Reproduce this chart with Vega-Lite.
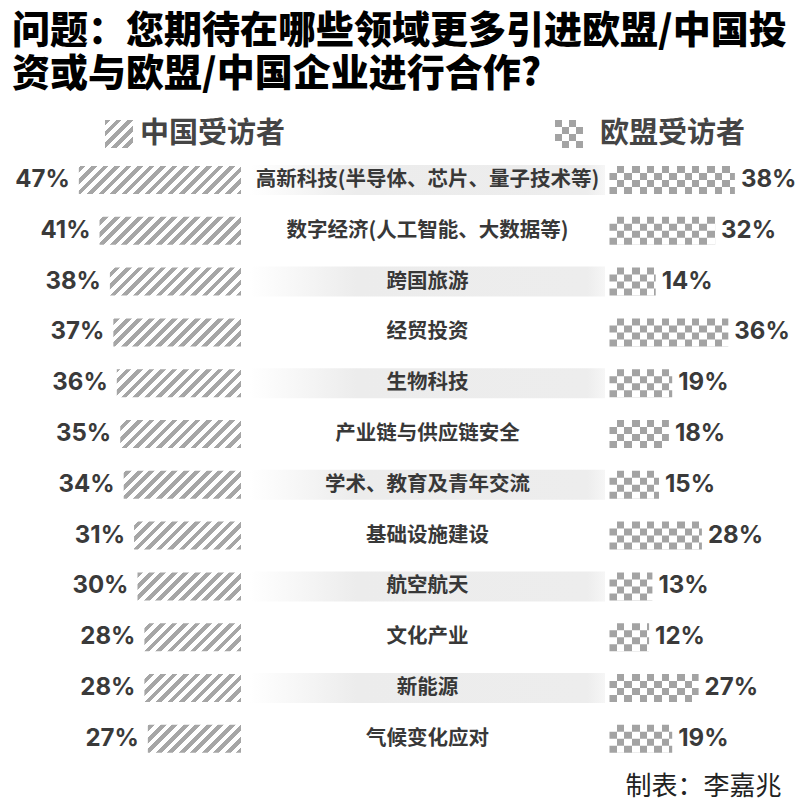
{
  "$schema": "https://vega.github.io/schema/vega-lite/v6.json",
  "width": 806,
  "height": 709,
  "autosize": "none",
  "padding": {"top": 100, "left": 0, "right": 0, "bottom": 0},
  "background": "white",
  "title": {
    "text": ["问题：您期待在哪些领域更多引进欧盟/中国投", "资或与欧盟/中国企业进行合作?"],
    "anchor": "start",
    "frame": "group",
    "font": "Noto Sans CJK SC",
    "fontSize": 38,
    "fontWeight": 900,
    "color": "#000000",
    "lineHeight": 43,
    "offset": 6,
    "dx": 12
  },
  "config": {"view": {"stroke": null}},
  "data": {
    "values": [
      {"rank": 1, "item": "高新科技(半导体、芯片、量子技术等)", "cn": 0.47, "eu": 0.38},
      {"rank": 2, "item": "数字经济(人工智能、大数据等)", "cn": 0.41, "eu": 0.32},
      {"rank": 3, "item": "跨国旅游", "cn": 0.38, "eu": 0.14},
      {"rank": 4, "item": "经贸投资", "cn": 0.37, "eu": 0.36},
      {"rank": 5, "item": "生物科技", "cn": 0.36, "eu": 0.19},
      {"rank": 6, "item": "产业链与供应链安全", "cn": 0.35, "eu": 0.18},
      {"rank": 7, "item": "学术、教育及青年交流", "cn": 0.34, "eu": 0.15},
      {"rank": 8, "item": "基础设施建设", "cn": 0.31, "eu": 0.28},
      {"rank": 9, "item": "航空航天", "cn": 0.30, "eu": 0.13},
      {"rank": 10, "item": "文化产业", "cn": 0.28, "eu": 0.12},
      {"rank": 11, "item": "新能源", "cn": 0.28, "eu": 0.27},
      {"rank": 12, "item": "气候变化应对", "cn": 0.27, "eu": 0.19}
    ]
  },
  "resolve": {"scale": {"x": "independent"}, "axis": {"x": "independent"}},
  "encoding": {
    "y": {
      "field": "item",
      "type": "nominal",
      "axis": null,
      "scale": {
        "domain": ["legend", "高新科技(半导体、芯片、量子技术等)", "数字经济(人工智能、大数据等)", "跨国旅游", "经贸投资", "生物科技", "产业链与供应链安全", "学术、教育及青年交流", "基础设施建设", "航空航天", "文化产业", "新能源", "气候变化应对"],
        "range": [3.8, 664.2],
        "paddingInner": 0,
        "paddingOuter": 0
      }
    }
  },
  "layer": [
    {
      "transform": [{"filter": "datum.rank % 2 == 1"}],
      "mark": {
        "type": "bar",
        "height": 30,
        "fill": {
          "gradient": "linear", "x1": 0, "y1": 0, "x2": 1, "y2": 0,
          "stops": [
            {"offset": 0, "color": "#ffffff"},
            {"offset": 0.3, "color": "#ececec"},
            {"offset": 0.95, "color": "#ededed"},
            {"offset": 1, "color": "#f6f6f6"}
          ]
        }
      },
      "encoding": {
        "x": {"datum": 0, "type": "quantitative", "axis": null, "scale": {"domain": [0, 1], "range": [250, 605], "nice": false, "zero": false}},
        "x2": {"datum": 1}
      }
    },
    {
      "mark": {"type": "text", "font": "Noto Sans CJK SC", "fontSize": 20.5, "fontWeight": "bold", "color": "#383838", "baseline": "middle", "align": "center"},
      "encoding": {
        "x": {"datum": 0.5, "type": "quantitative", "axis": null, "scale": {"domain": [0, 1], "range": [250, 605], "nice": false, "zero": false}},
        "text": {"field": "item"}
      }
    },
    {
      "mark": {
        "type": "bar",
        "height": 28,
        "fill": {
          "gradient": "linear", "x1": 0, "y1": 0, "x2": 1.2342, "y2": 0.2003,
          "stops": [
            {"offset": 0, "color": "#a6a6a6"}, {"offset": 0.026316, "color": "#a6a6a6"}, {"offset": 0.026316, "color": "#ffffff"}, {"offset": 0.052632, "color": "#ffffff"},
            {"offset": 0.052632, "color": "#a6a6a6"}, {"offset": 0.078947, "color": "#a6a6a6"}, {"offset": 0.078947, "color": "#ffffff"}, {"offset": 0.105263, "color": "#ffffff"},
            {"offset": 0.105263, "color": "#a6a6a6"}, {"offset": 0.131579, "color": "#a6a6a6"}, {"offset": 0.131579, "color": "#ffffff"}, {"offset": 0.157895, "color": "#ffffff"},
            {"offset": 0.157895, "color": "#a6a6a6"}, {"offset": 0.184211, "color": "#a6a6a6"}, {"offset": 0.184211, "color": "#ffffff"}, {"offset": 0.210526, "color": "#ffffff"},
            {"offset": 0.210526, "color": "#a6a6a6"}, {"offset": 0.236842, "color": "#a6a6a6"}, {"offset": 0.236842, "color": "#ffffff"}, {"offset": 0.263158, "color": "#ffffff"},
            {"offset": 0.263158, "color": "#a6a6a6"}, {"offset": 0.289474, "color": "#a6a6a6"}, {"offset": 0.289474, "color": "#ffffff"}, {"offset": 0.315789, "color": "#ffffff"},
            {"offset": 0.315789, "color": "#a6a6a6"}, {"offset": 0.342105, "color": "#a6a6a6"}, {"offset": 0.342105, "color": "#ffffff"}, {"offset": 0.368421, "color": "#ffffff"},
            {"offset": 0.368421, "color": "#a6a6a6"}, {"offset": 0.394737, "color": "#a6a6a6"}, {"offset": 0.394737, "color": "#ffffff"}, {"offset": 0.421053, "color": "#ffffff"},
            {"offset": 0.421053, "color": "#a6a6a6"}, {"offset": 0.447368, "color": "#a6a6a6"}, {"offset": 0.447368, "color": "#ffffff"}, {"offset": 0.473684, "color": "#ffffff"},
            {"offset": 0.473684, "color": "#a6a6a6"}, {"offset": 0.5, "color": "#a6a6a6"}, {"offset": 0.5, "color": "#ffffff"}, {"offset": 0.526316, "color": "#ffffff"},
            {"offset": 0.526316, "color": "#a6a6a6"}, {"offset": 0.552632, "color": "#a6a6a6"}, {"offset": 0.552632, "color": "#ffffff"}, {"offset": 0.578947, "color": "#ffffff"},
            {"offset": 0.578947, "color": "#a6a6a6"}, {"offset": 0.605263, "color": "#a6a6a6"}, {"offset": 0.605263, "color": "#ffffff"}, {"offset": 0.631579, "color": "#ffffff"},
            {"offset": 0.631579, "color": "#a6a6a6"}, {"offset": 0.657895, "color": "#a6a6a6"}, {"offset": 0.657895, "color": "#ffffff"}, {"offset": 0.684211, "color": "#ffffff"},
            {"offset": 0.684211, "color": "#a6a6a6"}, {"offset": 0.710526, "color": "#a6a6a6"}, {"offset": 0.710526, "color": "#ffffff"}, {"offset": 0.736842, "color": "#ffffff"},
            {"offset": 0.736842, "color": "#a6a6a6"}, {"offset": 0.763158, "color": "#a6a6a6"}, {"offset": 0.763158, "color": "#ffffff"}, {"offset": 0.789474, "color": "#ffffff"},
            {"offset": 0.789474, "color": "#a6a6a6"}, {"offset": 0.815789, "color": "#a6a6a6"}, {"offset": 0.815789, "color": "#ffffff"}, {"offset": 0.842105, "color": "#ffffff"},
            {"offset": 0.842105, "color": "#a6a6a6"}, {"offset": 0.868421, "color": "#a6a6a6"}, {"offset": 0.868421, "color": "#ffffff"}, {"offset": 0.894737, "color": "#ffffff"},
            {"offset": 0.894737, "color": "#a6a6a6"}, {"offset": 0.921053, "color": "#a6a6a6"}, {"offset": 0.921053, "color": "#ffffff"}, {"offset": 0.947368, "color": "#ffffff"},
            {"offset": 0.947368, "color": "#a6a6a6"}, {"offset": 0.973684, "color": "#a6a6a6"}, {"offset": 0.973684, "color": "#ffffff"}, {"offset": 1, "color": "#ffffff"}
          ]
        }
      },
      "encoding": {
        "x": {"datum": 0, "type": "quantitative", "axis": null, "scale": {"domain": [0, 0.5], "range": [241, 68.5], "nice": false, "zero": false}},
        "x2": {"datum": 0.5}
      }
    },
    {
      "mark": {"type": "bar", "height": 31, "fill": "#ffffff"},
      "encoding": {
        "x": {"field": "cn", "type": "quantitative", "axis": null, "scale": {"domain": [0, 0.5], "range": [241, 68.5], "nice": false, "zero": false}},
        "x2": {"datum": 0.52}
      }
    },
    {
      "mark": {"type": "text", "font": "Inter", "fontSize": 24, "fontWeight": "bold", "color": "#3a3a3a", "align": "right", "baseline": "middle", "dx": -9},
      "encoding": {
        "x": {"field": "cn", "type": "quantitative", "axis": null, "scale": {"domain": [0, 0.5], "range": [241, 68.5], "nice": false, "zero": false}},
        "text": {"field": "cn", "format": ".0%"}
      }
    },
    {
      "mark": {
        "type": "bar",
        "height": 28,
        "fill": {
          "gradient": "linear", "x1": 0, "y1": 0, "x2": 1, "y2": 0,
          "stops": [
            {"offset": 0, "color": "#ffffff"}, {"offset": 0.056818, "color": "#ffffff"}, {"offset": 0.056818, "color": "#a3a3a3"}, {"offset": 0.113636, "color": "#a3a3a3"},
            {"offset": 0.113636, "color": "#ffffff"}, {"offset": 0.170455, "color": "#ffffff"}, {"offset": 0.170455, "color": "#a3a3a3"}, {"offset": 0.227273, "color": "#a3a3a3"},
            {"offset": 0.227273, "color": "#ffffff"}, {"offset": 0.284091, "color": "#ffffff"}, {"offset": 0.284091, "color": "#a3a3a3"}, {"offset": 0.340909, "color": "#a3a3a3"},
            {"offset": 0.340909, "color": "#ffffff"}, {"offset": 0.397727, "color": "#ffffff"}, {"offset": 0.397727, "color": "#a3a3a3"}, {"offset": 0.454545, "color": "#a3a3a3"},
            {"offset": 0.454545, "color": "#ffffff"}, {"offset": 0.511364, "color": "#ffffff"}, {"offset": 0.511364, "color": "#a3a3a3"}, {"offset": 0.568182, "color": "#a3a3a3"},
            {"offset": 0.568182, "color": "#ffffff"}, {"offset": 0.625, "color": "#ffffff"}, {"offset": 0.625, "color": "#a3a3a3"}, {"offset": 0.681818, "color": "#a3a3a3"},
            {"offset": 0.681818, "color": "#ffffff"}, {"offset": 0.738636, "color": "#ffffff"}, {"offset": 0.738636, "color": "#a3a3a3"}, {"offset": 0.795455, "color": "#a3a3a3"},
            {"offset": 0.795455, "color": "#ffffff"}, {"offset": 0.852273, "color": "#ffffff"}, {"offset": 0.852273, "color": "#a3a3a3"}, {"offset": 0.909091, "color": "#a3a3a3"},
            {"offset": 0.909091, "color": "#ffffff"}, {"offset": 0.965909, "color": "#ffffff"}, {"offset": 0.965909, "color": "#a3a3a3"}, {"offset": 1, "color": "#a3a3a3"}
          ]
        }
      },
      "encoding": {
        "x": {"datum": 0, "type": "quantitative", "axis": null, "scale": {"domain": [0, 0.4], "range": [609.5, 741.5], "nice": false, "zero": false}},
        "x2": {"datum": 0.4}
      }
    },
    {
      "mark": {
        "type": "bar",
        "height": 7,
        "yOffset": -3.5,
        "fill": {
          "gradient": "linear", "x1": 0, "y1": 0, "x2": 1, "y2": 0,
          "stops": [
            {"offset": 0, "color": "#a3a3a3"}, {"offset": 0.056818, "color": "#a3a3a3"}, {"offset": 0.056818, "color": "#ffffff"}, {"offset": 0.113636, "color": "#ffffff"},
            {"offset": 0.113636, "color": "#a3a3a3"}, {"offset": 0.170455, "color": "#a3a3a3"}, {"offset": 0.170455, "color": "#ffffff"}, {"offset": 0.227273, "color": "#ffffff"},
            {"offset": 0.227273, "color": "#a3a3a3"}, {"offset": 0.284091, "color": "#a3a3a3"}, {"offset": 0.284091, "color": "#ffffff"}, {"offset": 0.340909, "color": "#ffffff"},
            {"offset": 0.340909, "color": "#a3a3a3"}, {"offset": 0.397727, "color": "#a3a3a3"}, {"offset": 0.397727, "color": "#ffffff"}, {"offset": 0.454545, "color": "#ffffff"},
            {"offset": 0.454545, "color": "#a3a3a3"}, {"offset": 0.511364, "color": "#a3a3a3"}, {"offset": 0.511364, "color": "#ffffff"}, {"offset": 0.568182, "color": "#ffffff"},
            {"offset": 0.568182, "color": "#a3a3a3"}, {"offset": 0.625, "color": "#a3a3a3"}, {"offset": 0.625, "color": "#ffffff"}, {"offset": 0.681818, "color": "#ffffff"},
            {"offset": 0.681818, "color": "#a3a3a3"}, {"offset": 0.738636, "color": "#a3a3a3"}, {"offset": 0.738636, "color": "#ffffff"}, {"offset": 0.795455, "color": "#ffffff"},
            {"offset": 0.795455, "color": "#a3a3a3"}, {"offset": 0.852273, "color": "#a3a3a3"}, {"offset": 0.852273, "color": "#ffffff"}, {"offset": 0.909091, "color": "#ffffff"},
            {"offset": 0.909091, "color": "#a3a3a3"}, {"offset": 0.965909, "color": "#a3a3a3"}, {"offset": 0.965909, "color": "#ffffff"}, {"offset": 1, "color": "#ffffff"}
          ]
        }
      },
      "encoding": {
        "x": {"datum": 0, "type": "quantitative", "axis": null, "scale": {"domain": [0, 0.4], "range": [609.5, 741.5], "nice": false, "zero": false}},
        "x2": {"datum": 0.4}
      }
    },
    {
      "mark": {
        "type": "bar",
        "height": 7,
        "yOffset": 10.5,
        "fill": {
          "gradient": "linear", "x1": 0, "y1": 0, "x2": 1, "y2": 0,
          "stops": [
            {"offset": 0, "color": "#a3a3a3"}, {"offset": 0.056818, "color": "#a3a3a3"}, {"offset": 0.056818, "color": "#ffffff"}, {"offset": 0.113636, "color": "#ffffff"},
            {"offset": 0.113636, "color": "#a3a3a3"}, {"offset": 0.170455, "color": "#a3a3a3"}, {"offset": 0.170455, "color": "#ffffff"}, {"offset": 0.227273, "color": "#ffffff"},
            {"offset": 0.227273, "color": "#a3a3a3"}, {"offset": 0.284091, "color": "#a3a3a3"}, {"offset": 0.284091, "color": "#ffffff"}, {"offset": 0.340909, "color": "#ffffff"},
            {"offset": 0.340909, "color": "#a3a3a3"}, {"offset": 0.397727, "color": "#a3a3a3"}, {"offset": 0.397727, "color": "#ffffff"}, {"offset": 0.454545, "color": "#ffffff"},
            {"offset": 0.454545, "color": "#a3a3a3"}, {"offset": 0.511364, "color": "#a3a3a3"}, {"offset": 0.511364, "color": "#ffffff"}, {"offset": 0.568182, "color": "#ffffff"},
            {"offset": 0.568182, "color": "#a3a3a3"}, {"offset": 0.625, "color": "#a3a3a3"}, {"offset": 0.625, "color": "#ffffff"}, {"offset": 0.681818, "color": "#ffffff"},
            {"offset": 0.681818, "color": "#a3a3a3"}, {"offset": 0.738636, "color": "#a3a3a3"}, {"offset": 0.738636, "color": "#ffffff"}, {"offset": 0.795455, "color": "#ffffff"},
            {"offset": 0.795455, "color": "#a3a3a3"}, {"offset": 0.852273, "color": "#a3a3a3"}, {"offset": 0.852273, "color": "#ffffff"}, {"offset": 0.909091, "color": "#ffffff"},
            {"offset": 0.909091, "color": "#a3a3a3"}, {"offset": 0.965909, "color": "#a3a3a3"}, {"offset": 0.965909, "color": "#ffffff"}, {"offset": 1, "color": "#ffffff"}
          ]
        }
      },
      "encoding": {
        "x": {"datum": 0, "type": "quantitative", "axis": null, "scale": {"domain": [0, 0.4], "range": [609.5, 741.5], "nice": false, "zero": false}},
        "x2": {"datum": 0.4}
      }
    },
    {
      "mark": {"type": "bar", "height": 31, "fill": "#ffffff"},
      "encoding": {
        "x": {"field": "eu", "type": "quantitative", "axis": null, "scale": {"domain": [0, 0.4], "range": [609.5, 741.5], "nice": false, "zero": false}},
        "x2": {"datum": 0.42}
      }
    },
    {
      "mark": {"type": "text", "font": "Inter", "fontSize": 24, "fontWeight": "bold", "color": "#3a3a3a", "align": "left", "baseline": "middle", "dx": 6},
      "encoding": {
        "x": {
          "field": "eu", "type": "quantitative",
          "scale": {"domain": [0, 0.4], "range": [609.5, 741.5], "nice": false, "zero": false},
          "axis": {
            "orient": "bottom", "domain": false, "ticks": false, "labels": false, "grid": false,
            "title": "制表：李嘉兆",
            "titleFont": "Noto Sans CJK SC", "titleFontSize": 26, "titleFontWeight": "normal", "titleColor": "#222222",
            "titleAnchor": null, "titleAlign": "right", "titleBaseline": "middle",
            "titleX": 781, "titleY": -23
          }
        },
        "text": {"field": "eu", "format": ".0%"}
      }
    },
    {
      "data": {"values": [{"who": "中国受访者"}]},
      "layer": [
        {
          "mark": {
            "type": "bar", "height": 28, "yOffset": 4.8,
            "fill": {
              "gradient": "linear", "x1": 0, "y1": 0, "x2": 1, "y2": 1,
              "stops": [
                {"offset": 0, "color": "#a6a6a6"}, {"offset": 0.1, "color": "#a6a6a6"}, {"offset": 0.1, "color": "#ffffff"}, {"offset": 0.2, "color": "#ffffff"},
                {"offset": 0.2, "color": "#a6a6a6"}, {"offset": 0.3, "color": "#a6a6a6"}, {"offset": 0.3, "color": "#ffffff"}, {"offset": 0.4, "color": "#ffffff"},
                {"offset": 0.4, "color": "#a6a6a6"}, {"offset": 0.5, "color": "#a6a6a6"}, {"offset": 0.5, "color": "#ffffff"}, {"offset": 0.6, "color": "#ffffff"},
                {"offset": 0.6, "color": "#a6a6a6"}, {"offset": 0.7, "color": "#a6a6a6"}, {"offset": 0.7, "color": "#ffffff"}, {"offset": 0.8, "color": "#ffffff"},
                {"offset": 0.8, "color": "#a6a6a6"}, {"offset": 0.9, "color": "#a6a6a6"}, {"offset": 0.9, "color": "#ffffff"}, {"offset": 1, "color": "#ffffff"}
              ]
            }
          },
          "encoding": {
            "y": {"datum": "legend", "type": "nominal", "axis": null},
            "x": {"datum": 0.3942, "type": "quantitative", "axis": null, "scale": {"domain": [0, 0.5], "range": [241, 68.5], "nice": false, "zero": false}},
            "x2": {"datum": 0.313}
          }
        },
        {
          "mark": {"type": "text", "font": "Noto Sans CJK SC", "fontSize": 29, "fontWeight": "bold", "color": "#454545", "align": "left", "baseline": "middle", "yOffset": 4.8},
          "encoding": {
            "y": {"datum": "legend", "type": "nominal", "axis": null},
            "x": {"datum": 0.2928, "type": "quantitative", "axis": null, "scale": {"domain": [0, 0.5], "range": [241, 68.5], "nice": false, "zero": false}},
            "text": {"field": "who"}
          }
        }
      ]
    },
    {
      "data": {"values": [{"who": "欧盟受访者"}]},
      "layer": [
        {
          "mark": {
            "type": "bar", "height": 28, "yOffset": 4.8,
            "fill": {
              "gradient": "linear", "x1": 0, "y1": 0, "x2": 1, "y2": 0,
              "stops": [
                {"offset": 0, "color": "#a3a3a3"}, {"offset": 0.25, "color": "#a3a3a3"}, {"offset": 0.25, "color": "#ffffff"}, {"offset": 0.5, "color": "#ffffff"},
                {"offset": 0.5, "color": "#a3a3a3"}, {"offset": 0.75, "color": "#a3a3a3"}, {"offset": 0.75, "color": "#ffffff"}, {"offset": 1, "color": "#ffffff"}
              ]
            }
          },
          "encoding": {
            "y": {"datum": "legend", "type": "nominal", "axis": null},
            "x": {"datum": -0.1652, "type": "quantitative", "axis": null, "scale": {"domain": [0, 0.4], "range": [609.5, 741.5], "nice": false, "zero": false}},
            "x2": {"datum": -0.0803}
          }
        },
        {
          "mark": {
            "type": "bar", "height": 7, "yOffset": 1.3,
            "fill": {
              "gradient": "linear", "x1": 0, "y1": 0, "x2": 1, "y2": 0,
              "stops": [
                {"offset": 0, "color": "#ffffff"}, {"offset": 0.25, "color": "#ffffff"}, {"offset": 0.25, "color": "#a3a3a3"}, {"offset": 0.5, "color": "#a3a3a3"},
                {"offset": 0.5, "color": "#ffffff"}, {"offset": 0.75, "color": "#ffffff"}, {"offset": 0.75, "color": "#a3a3a3"}, {"offset": 1, "color": "#a3a3a3"}
              ]
            }
          },
          "encoding": {
            "y": {"datum": "legend", "type": "nominal", "axis": null},
            "x": {"datum": -0.1652, "type": "quantitative", "axis": null, "scale": {"domain": [0, 0.4], "range": [609.5, 741.5], "nice": false, "zero": false}},
            "x2": {"datum": -0.0803}
          }
        },
        {
          "mark": {
            "type": "bar", "height": 7, "yOffset": 15.3,
            "fill": {
              "gradient": "linear", "x1": 0, "y1": 0, "x2": 1, "y2": 0,
              "stops": [
                {"offset": 0, "color": "#ffffff"}, {"offset": 0.25, "color": "#ffffff"}, {"offset": 0.25, "color": "#a3a3a3"}, {"offset": 0.5, "color": "#a3a3a3"},
                {"offset": 0.5, "color": "#ffffff"}, {"offset": 0.75, "color": "#ffffff"}, {"offset": 0.75, "color": "#a3a3a3"}, {"offset": 1, "color": "#a3a3a3"}
              ]
            }
          },
          "encoding": {
            "y": {"datum": "legend", "type": "nominal", "axis": null},
            "x": {"datum": -0.1652, "type": "quantitative", "axis": null, "scale": {"domain": [0, 0.4], "range": [609.5, 741.5], "nice": false, "zero": false}},
            "x2": {"datum": -0.0803}
          }
        },
        {
          "mark": {"type": "text", "font": "Noto Sans CJK SC", "fontSize": 29, "fontWeight": "bold", "color": "#454545", "align": "left", "baseline": "middle", "yOffset": 4.8},
          "encoding": {
            "y": {"datum": "legend", "type": "nominal", "axis": null},
            "x": {"datum": -0.0288, "type": "quantitative", "axis": null, "scale": {"domain": [0, 0.4], "range": [609.5, 741.5], "nice": false, "zero": false}},
            "text": {"field": "who"}
          }
        }
      ]
    }
  ]
}
